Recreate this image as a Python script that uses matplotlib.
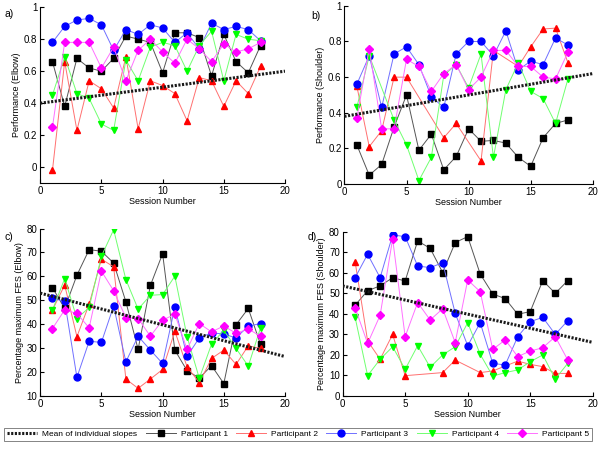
import numpy as np
import matplotlib
matplotlib.use("Agg")
import matplotlib.pyplot as plt

plt.rcParams["font.family"] = ["Liberation Sans", "DejaVu Sans"]

sessions = list(range(1, 19))
sessions_p2_shoulder = [1, 2, 3, 4, 5, 8, 9, 11, 12, 14, 15, 16, 17, 18]
sessions_p4_b = [1, 2, 4, 5, 6, 7, 8, 9, 10, 11, 12, 13, 14, 15, 16, 17, 18]

# a) Performance (Elbow)
a_p1 = [0.66, 0.38, 0.68, 0.62, 0.60, 0.68, 0.82, 0.80, 0.78, 0.59, 0.84, 0.84, 0.81, 0.57, 0.83, 0.66, 0.59, 0.76]
a_p2 = [-0.02, 0.66, 0.23, 0.54, 0.49, 0.37, 0.69, 0.24, 0.54, 0.51, 0.46, 0.29, 0.56, 0.54, 0.38, 0.54, 0.46, 0.63]
a_p3 = [0.78, 0.88, 0.92, 0.93, 0.89, 0.73, 0.86, 0.83, 0.89, 0.87, 0.78, 0.84, 0.74, 0.90, 0.86, 0.88, 0.86, 0.79]
a_p4 = [0.45, 0.69, 0.46, 0.43, 0.27, 0.23, 0.67, 0.54, 0.75, 0.78, 0.76, 0.60, 0.76, 0.85, 0.54, 0.83, 0.80, 0.79]
a_p5 = [0.25, 0.78, 0.78, 0.78, 0.62, 0.75, 0.54, 0.73, 0.80, 0.72, 0.65, 0.80, 0.74, 0.66, 0.77, 0.72, 0.74, 0.78]
a_mean = [0.40, 0.60]

# b) Performance (Shoulder)
b_p1 = [0.22, 0.05, 0.11, 0.32, 0.50, 0.19, 0.28, 0.08, 0.155, 0.31, 0.24, 0.245, 0.23, 0.15, 0.10, 0.26, 0.34, 0.36]
b_p2 = [0.55, 0.21, 0.30, 0.60, 0.60, 0.26, 0.34, 0.13, 0.75, 0.66, 0.77, 0.87, 0.875, 0.68]
b_p3 = [0.56, 0.72, 0.43, 0.73, 0.77, 0.67, 0.49, 0.43, 0.73, 0.80, 0.80, 0.72, 0.86, 0.64, 0.69, 0.67, 0.82, 0.78]
b_p4 = [0.43, 0.72, 0.36, 0.22, 0.02, 0.15, 0.61, 0.67, 0.54, 0.73, 0.15, 0.53, 0.68, 0.52, 0.48, 0.34, 0.59]
b_p5 = [0.37, 0.76, 0.31, 0.31, 0.70, 0.66, 0.52, 0.62, 0.67, 0.53, 0.60, 0.75, 0.75, 0.66, 0.66, 0.60, 0.59, 0.74]
b_mean = [0.38, 0.62]

# c) Percentage maximum FES (Elbow)
c_p1 = [55.3, 46.6, 60.5, 71.2, 70.5, 65.6, 49.4, 29.5, 56.2, 69.5, 29.2, 20.6, 17.5, 22.7, 15.2, 39.8, 46.6, 31.6]
c_p2 = [45.9, 56.4, 34.8, 48.4, 67.2, 64.0, 17.1, 13.2, 17.1, 21.1, 37.1, 22.2, 15.6, 25.7, 29.2, 23.2, 31.0, 29.9]
c_p3 = [50.8, 49.6, 17.8, 32.9, 32.4, 47.6, 24.3, 35.0, 29.2, 23.6, 47.1, 26.6, 34.3, 36.4, 35.9, 34.3, 39.2, 40.3]
c_p4 = [45.9, 59.1, 42.4, 47.0, 68.4, 79.5, 58.7, 46.3, 52.1, 52.4, 60.1, 34.8, 17.4, 31.7, 37.5, 29.9, 22.5, 38.5]
c_p5 = [38.2, 46.0, 44.5, 38.5, 62.2, 54.0, 42.8, 42.4, 35.0, 41.7, 44.2, 29.5, 40.3, 36.8, 39.3, 36.2, 38.0, 35.0]
c_mean = [53.0, 26.5]

# d) Percentage maximum FES (Shoulder)
d_p1 = [44.2, 51.3, 53.6, 57.6, 56.0, 75.5, 71.9, 60.1, 74.7, 77.6, 59.4, 49.7, 47.4, 39.8, 41.1, 56.2, 50.0, 56.2]
d_p2 = [65.4, 26.8, 17.9, 30.0, 9.9, 11.4, 17.5, 11.4, 12.2, 17.0, 15.4, 14.3, 11.0, 11.0]
d_p3 = [57.6, 69.0, 57.6, 78.4, 77.6, 63.3, 62.5, 64.9, 40.3, 24.5, 35.7, 15.9, 15.1, 28.9, 36.2, 38.3, 30.0, 36.7]
d_p4 = [38.3, 9.9, 17.9, 24.0, 13.0, 24.5, 14.0, 20.0, 24.0, 35.7, 20.3, 9.7, 11.4, 12.7, 16.7, 20.0, 8.3, 15.9]
d_p5 = [43.0, 25.6, 39.3, 76.5, 28.9, 45.5, 37.0, 42.5, 26.0, 56.5, 50.8, 22.7, 27.3, 19.2, 21.9, 23.5, 28.9, 17.5]
d_mean = [53.6, 26.1]

mean_x = [0, 20]
names = ["Participant 1", "Participant 2", "Participant 3", "Participant 4", "Participant 5"]
markers = ["s", "^", "o", "v", "D"]
mcolors = ["#000000", "#ff0000", "#0000ff", "#00ff00", "#ff00ff"]
lcolors = ["#555555", "#ff7070", "#7070ff", "#70ff70", "#ff70ff"]
msizes = [4.2, 4.8, 5.0, 4.8, 3.8]

panels = [
    ("a)", "Performance (Elbow)", [a_p1, a_p2, a_p3, a_p4, a_p5],
     [sessions, sessions, sessions, sessions, sessions], a_mean, (-0.1, 1), np.arange(0, 1.01, 0.2)),
    ("b)", "Performance (Shoulder)", [b_p1, b_p2, b_p3, b_p4, b_p5],
     [sessions, sessions_p2_shoulder, sessions, sessions_p4_b, sessions], b_mean, (0, 1), np.arange(0, 1.01, 0.2)),
    ("c)", "Percentage maximum FES (Elbow)", [c_p1, c_p2, c_p3, c_p4, c_p5],
     [sessions, sessions, sessions, sessions, sessions], c_mean, (10, 80), np.arange(10, 81, 10)),
    ("d)", "Percentage maximum FES (Shoulder)", [d_p1, d_p2, d_p3, d_p4, d_p5],
     [sessions, sessions_p2_shoulder, sessions, sessions, sessions], d_mean, (0, 80), np.arange(0, 81, 10)),
]

boxes = [
    [0.067, 0.592, 0.408, 0.392],
    [0.574, 0.590, 0.414, 0.397],
    [0.067, 0.118, 0.408, 0.373],
    [0.571, 0.118, 0.417, 0.366],
]
letter_pos = [(0.008, 0.962), (0.518, 0.958), (0.008, 0.465), (0.513, 0.465)]

fig = plt.figure(figsize=(6, 4.49), dpi=100)
handles = []
for (letter, ylabel, series, xs, mean_y, ylim, yticks), box, lp in zip(panels, boxes, letter_pos):
    ax = fig.add_axes(box)
    handles = []
    h, = ax.plot(mean_x, mean_y, color="0.1", lw=2.2, ls=(0, (0.7, 0.5)), zorder=5,
                 label="Mean of individual slopes")
    handles.append(h)
    for i in range(5):
        h, = ax.plot(xs[i], series[i], color=lcolors[i], lw=0.7, marker=markers[i],
                     ms=msizes[i], mfc=mcolors[i], mec=mcolors[i], label=names[i])
        handles.append(h)
    ax.set_xlim(0, 20)
    ax.set_ylim(*ylim)
    ax.set_xticks([0, 5, 10, 15, 20])
    ax.set_yticks(yticks)
    if ylim[1] == 1:
        ax.set_yticklabels(["0", "0.2", "0.4", "0.6", "0.8", "1"])
    ax.spines["top"].set_visible(False)
    ax.spines["right"].set_visible(False)
    ax.tick_params(direction="in", labelsize=7, length=3, pad=2)
    ax.set_xlabel("Session Number", fontsize=6.5, labelpad=1)
    ax.set_ylabel(ylabel, fontsize=6.5, labelpad=2)
    fig.text(lp[0], lp[1], letter, fontsize=7.5)

leg = fig.legend(handles=handles, loc="lower center", bbox_to_anchor=(0.497, 0.008), ncol=6,
                 fontsize=6, frameon=True, fancybox=False, edgecolor="0.3",
                 handlelength=3.6, handletextpad=0.6, columnspacing=1.0, borderpad=0.35)
leg.get_frame().set_linewidth(0.6)

fig.savefig("out.png", dpi=100)
